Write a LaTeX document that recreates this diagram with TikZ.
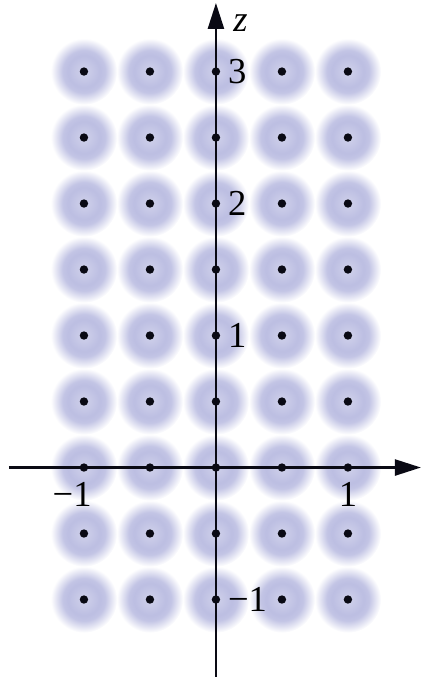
\documentclass[tikz,border=0pt]{standalone}
\usepackage{fontspec}
\setmainfont{Liberation Serif}
\usepackage{xcolor}
\usepackage{tikz}
\usetikzlibrary{arrows.meta}
\definecolor{LatticeHalo}{HTML}{BCBEE2}
\definecolor{LatticeInk}{HTML}{0A0A14}
\pgfdeclareradialshading{sitehalo}{\pgfpoint{0bp}{0bp}}{%
  color(0bp)=(LatticeHalo!70!white); color(12bp)=(LatticeHalo);
  color(16bp)=(LatticeHalo!90!white); color(25bp)=(white);
  color(50bp)=(white)}
\tikzset{
  halo/.style={shading=sitehalo},
  site/.style={fill=LatticeInk},
  axis/.style={draw=LatticeInk, line width=1.7pt,
    -{Triangle[length=6.5mm, width=4mm]}},
  ticklabel/.style={inner sep=0pt, font=\fontsize{26}{30}\selectfont}
}

\begin{document}
\begin{tikzpicture}[x=3.3cm, y=3.3cm]
  \useasboundingbox (-1.636,-1.587) rectangle (1.568,3.542);
  % blurred lattice sites
  \foreach \i in {-2,...,2}
    \foreach \j in {-2,...,6}
      \shade[halo] (\i/2,\j/2) circle (8.3mm);
  % axes
  \coordinate (xstart) at (-1.568,0);
  \coordinate (xend) at (1.553,0);
  \coordinate (zstart) at (0,-1.587);
  \coordinate (zend) at (0,3.52);
  \draw[axis] (xstart) -- (xend);
  \draw[axis] (zstart) -- (zend);
  % sites
  \foreach \i in {-2,...,2}
    \foreach \j in {-2,...,6}
      \fill[site] (\i/2,\j/2) circle (1.05mm);
  % labels
  \node[ticklabel, anchor=north east] (xminus) at (-0.94,-0.11) {−1};
  \node[ticklabel, anchor=north] (xplus) at (1,-0.11) {1};
  \node[ticklabel, anchor=west] (zthree) at (0.09,3) {3};
  \node[ticklabel, anchor=west] (ztwo) at (0.09,2) {2};
  \node[ticklabel, anchor=west] (zone) at (0.09,1) {1};
  \node[ticklabel, anchor=west] (zminus) at (0.09,-1) {−1};
  \node[ticklabel, anchor=west] (zlabel) at (0.13,3.37) {\textit{z}};
\end{tikzpicture}
\end{document}
